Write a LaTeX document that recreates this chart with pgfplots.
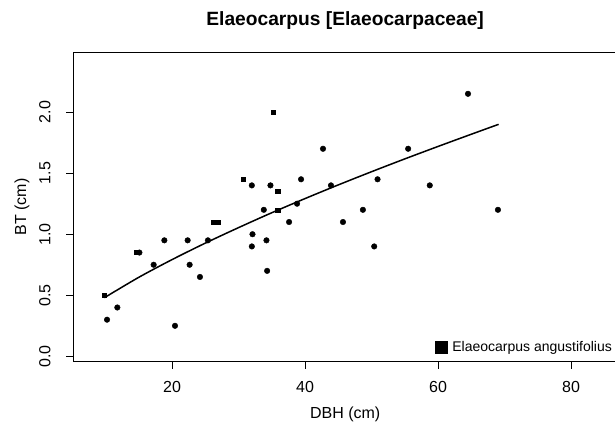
\documentclass[border=0pt]{standalone}
\usepackage{pgfplots}
\pgfplotsset{compat=1.18}
\usepackage{fontspec}
\setmainfont{Liberation Sans}

\begin{document}
\begin{tikzpicture}[x=1pt,y=1pt]
\useasboundingbox (-73.3,-66.3) rectangle (541.7,361.7);
\clip (-73.3,-66.3) rectangle (541.7,361.7);
\begin{axis}[
  at={(0,0)}, anchor=south west,
  scale only axis, width=543.7pt, height=309.4pt,
  xmin=5.16, xmax=86.9, ymin=-0.044, ymax=2.49,
  xtick={20,40,60,80},
  ytick={0,0.5,1,1.5,2},
  yticklabels={0.0,0.5,1.0,1.5,2.0},
  tick pos=left,
  tick align=outside,
  major tick length=7pt,
  tick style={black, line width=0.9pt},
  axis line style={black, line width=1pt},
  /pgf/number format/assume math mode=true,
  ticklabel style={font=\fontsize{16}{19}\selectfont, inner sep=0pt},
  xticklabel style={anchor=north},
  yticklabel style={rotate=90, anchor=south},
  xticklabel shift=12pt,
  yticklabel shift=15.5pt,
  xlabel={DBH (cm)},
  ylabel={BT (cm)},
  label style={font=\fontsize{16}{19}\selectfont, inner sep=0pt},
  xlabel style={at={(axis description cs:0.5,-0.169)}, anchor=center},
  ylabel style={at={(axis description cs:-0.0944,0.5)}, anchor=center},
  title={Elaeocarpus [Elaeocarpaceae]},
  title style={at={(axis description cs:0.5,1.0834)}, anchor=center, inner sep=0pt,
    font=\bfseries\fontsize{19.2}{23}\selectfont},
  legend style={draw=none, fill=none, at={(axis description cs:0.6653,0.0459)}, anchor=west,
    font=\fontsize{14}{17}\selectfont, inner sep=0pt, column sep=5pt,
    nodes={inner sep=0pt}},
  legend cell align=left,
]
% fitted curve
\addplot[black, line width=1.5pt, smooth, forget plot] coordinates {
  (9.83,0.480) (15,0.647) (20,0.792) (25,0.927) (30,1.054) (35,1.176)
  (40,1.292) (45,1.404) (50,1.512) (55,1.617) (60,1.719) (65,1.819) (69.1,1.900)
};
% other Elaeocarpus (circles)
\addplot[only marks, mark=*, mark size=2.8pt, black, forget plot] coordinates {
  (10.23,0.30) (11.78,0.40) (15.1,0.85) (17.24,0.75) (18.85,0.95) (20.45,0.25)
  (22.35,0.95) (22.65,0.75) (24.2,0.65) (25.4,0.95) (32.0,1.40) (32.1,1.00)
  (32.0,0.90) (33.8,1.20) (34.2,0.95) (34.3,0.70) (34.8,1.40) (37.6,1.10)
  (38.8,1.25) (39.4,1.45) (42.7,1.70) (43.9,1.40) (45.7,1.10) (48.7,1.20)
  (50.4,0.90) (50.9,1.45) (55.5,1.70) (58.75,1.40) (64.5,2.15) (69.0,1.20)
};
% Elaeocarpus angustifolius (squares)
\addplot[only marks, mark=square*, mark size=2.1pt, black,
  legend image code/.code={\fill[black] (0pt,-5.8pt) rectangle (11.7pt,5.8pt);}] coordinates {
  (9.83,0.50) (14.6,0.85) (26.2,1.10) (26.9,1.10) (30.7,1.45) (35.2,2.00)
  (35.9,1.35) (35.9,1.20)
};
\addlegendentry{Elaeocarpus angustifolius}
\end{axis}
\end{tikzpicture}
\end{document}
